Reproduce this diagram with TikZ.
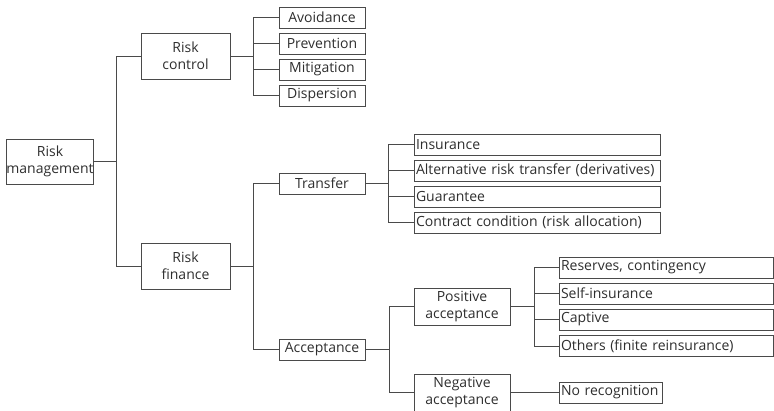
\documentclass[tikz,border=0pt]{standalone}
\usepackage{fontspec}
\setmainfont{Open Sans}
\definecolor{linec}{HTML}{4A4A4A}
\definecolor{textc}{HTML}{2E2E2E}
\tikzset{
  box/.style={draw=linec, line width=0.9pt, inner sep=0pt, text=textc, font=\fontsize{14}{17}\selectfont, align=center},
  wbox/.style={box, text width=#1, align=left, inner xsep=2pt},
  conn/.style={draw=linec, line width=0.9pt},
}
\begin{document}
\begin{tikzpicture}[x=1pt,y=-1pt]
\useasboundingbox (0,0) rectangle (774,410);
% level 0/1
\node[box, minimum width=86, minimum height=45] (rm) at (50,161.5) {Risk\\management};
\node[box, minimum width=89, minimum height=46] (rc) at (185.5,56) {Risk\\control};
\node[box, minimum width=89, minimum height=46] (rf) at (185.5,266) {Risk\\finance};
% risk control children
\node[box, minimum width=86, minimum height=21] (avo) at (322,17.5) {Avoidance};
\node[box, minimum width=86, minimum height=21] (pre) at (322,43.5) {Prevention};
\node[box, minimum width=86, minimum height=21] (mit) at (322,69.5) {Mitigation};
\node[box, minimum width=86, minimum height=21] (dis) at (322,95.5) {Dispersion};
% risk finance children
\node[box, minimum width=86, minimum height=21] (tra) at (322,183.5) {Transfer};
\node[box, minimum width=86, minimum height=21] (acc) at (322,349.5) {Acceptance};
% transfer children
\node[wbox=242pt, minimum height=21] (ins) at (537,144.5) {Insurance};
\node[wbox=242pt, minimum height=21] (art) at (537,170.5) {Alternative risk transfer (derivatives)};
\node[wbox=242pt, minimum height=21] (gua) at (537,196.5) {Guarantee};
\node[wbox=242pt, minimum height=21] (con) at (537,222.5) {Contract condition (risk allocation)};
% acceptance children
\node[box, minimum width=96, minimum height=37] (pa) at (462,306.5) {Positive\\acceptance};
\node[box, minimum width=96, minimum height=37] (na) at (462,392.5) {Negative\\acceptance};
% positive acceptance children
\node[wbox=210pt, minimum height=21] (res) at (666,267.5) {Reserves, contingency};
\node[wbox=210pt, minimum height=21] (sel) at (666,293.5) {Self-insurance};
\node[wbox=210pt, minimum height=21] (cap) at (666,319.5) {Captive};
\node[wbox=210pt, minimum height=21] (oth) at (666,346) {Others (finite reinsurance)};
% negative acceptance child
\node[wbox=99pt, minimum height=21] (nor) at (610.5,392.5) {No recognition};
% bus coordinates
\coordinate (b1) at (116,0);
\coordinate (b2) at (253,0);
\coordinate (b3) at (253,0);
\coordinate (b4) at (388,0);
\coordinate (b5) at (389,0);
\coordinate (b6) at (534,0);
% connectors
\draw[conn] (rm.east) -- (rm.east -| b1);
\draw[conn] (rc.west) -- (rc.west -| b1) -- (rf.west -| b1) -- (rf.west);
\draw[conn] (rc.east) -- (rc.east -| b2);
\draw[conn] (avo.west) -- (avo.west -| b2) -- (dis.west -| b2) -- (dis.west);
\draw[conn] (pre.west) -- (pre.west -| b2);
\draw[conn] (mit.west) -- (mit.west -| b2);
\draw[conn] (rf.east) -- (rf.east -| b3);
\draw[conn] (tra.west) -- (tra.west -| b3) -- (acc.west -| b3) -- (acc.west);
\draw[conn] (tra.east) -- (tra.east -| b4);
\draw[conn] (ins.west) -- (ins.west -| b4) -- (con.west -| b4) -- (con.west);
\draw[conn] (art.west) -- (art.west -| b4);
\draw[conn] (gua.west) -- (gua.west -| b4);
\draw[conn] (acc.east) -- (acc.east -| b5);
\draw[conn] (pa.west) -- (pa.west -| b5) -- (na.west -| b5) -- (na.west);
\draw[conn] (pa.east) -- (pa.east -| b6);
\draw[conn] (res.west) -- (res.west -| b6) -- (oth.west -| b6) -- (oth.west);
\draw[conn] (sel.west) -- (sel.west -| b6);
\draw[conn] (cap.west) -- (cap.west -| b6);
\draw[conn] (na.east) -- (nor.west);
\end{tikzpicture}
\end{document}
